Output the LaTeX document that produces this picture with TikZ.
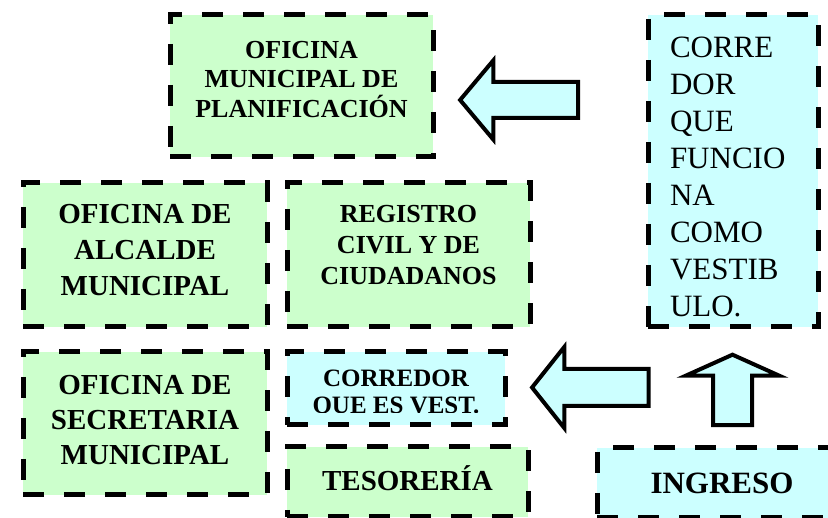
\documentclass[tikz,border=0pt]{standalone}
\usepackage{fontspec}
\setmainfont{Liberation Serif}
\usetikzlibrary{shapes.arrows}
\definecolor{officegreen}{HTML}{CCFFCC}
\definecolor{hallcyan}{HTML}{CCFFFF}

\begin{document}
\begin{tikzpicture}[x=1pt, y=-1pt]
\tikzstyle{room} = [rectangle, draw=black, line width=5pt, dash pattern=on 21pt off 20pt, inner sep=0pt]
\tikzstyle{office} = [room, fill=officegreen, align=center]
\tikzstyle{hall} = [room, fill=hallcyan, align=center]
\tikzstyle{flow} = [single arrow, draw=black, line width=4pt, fill=hallcyan, inner xsep=0pt, anchor=tip]

\useasboundingbox (0,0) rectangle (828,518);
\clip (0,0) rectangle (828,518);

% oficinas
\node (plan) [office, minimum width=263, minimum height=142, text depth=14pt, font=\fontsize{26}{29.5}\selectfont\bfseries] at (301.5,86) {OFICINA\\MUNICIPAL DE\\PLANIFICACIÓN};
\node (mayor) [office, minimum width=244, minimum height=144, text depth=10pt, font=\fontsize{29}{36}\selectfont\bfseries] at (145,255) {OFICINA DE\\ALCALDE\\MUNICIPAL};
\node (registry) [office, minimum width=243, minimum height=144, text depth=20pt, font=\fontsize{26}{31}\selectfont\bfseries] at (408.5,255) {REGISTRO\\CIVIL Y DE\\CIUDADANOS};
\node (secretary) [office, minimum width=244, minimum height=143, text depth=8pt, font=\fontsize{29}{35}\selectfont\bfseries] at (145,423.5) {OFICINA DE\\SECRETARIA\\MUNICIPAL};
\node (treasury) [office, minimum width=241, minimum height=70, text depth=8pt, font=\fontsize{29}{35}\selectfont\bfseries] at (407.5,482) {TESORERÍA};

% corredores e ingreso
\node (lobby) [hall, minimum width=170, minimum height=312, text width=126, align=left, text depth=248pt, font=\fontsize{31}{37.1}\selectfont] at (733,171) {CORRE\\DOR\\QUE\\FUNCIO\\NA\\COMO\\VESTIB\\ULO.};
\node (vest) [hall, minimum width=218, minimum height=73] at (396,388.5) {};
\begin{scope}
  \clip (vest.north west) rectangle ([yshift=15pt]vest.south east);
  \node (vesttext) [anchor=base, align=center, font=\fontsize{25}{27}\selectfont\bfseries] at (396,414) {CORREDOR\\QUE ES VEST.};
\end{scope}
\node (entry) [hall, minimum width=250, minimum height=70, font=\fontsize{31}{36}\selectfont\bfseries] at (722,483) {INGRESO};

% flechas
\node (toplan) [flow, rotate=180, minimum height=118, inner ysep=16, single arrow head extend=21.5, single arrow tip angle=100] at (457.5,100) {};
\node (tovest) [flow, rotate=180, minimum height=116.5, inner ysep=16.5, single arrow head extend=22, single arrow tip angle=103] at (529.5,387.5) {};
\node (tolobby) [flow, rotate=90, minimum height=70.5, inner ysep=17.5, single arrow head extend=27, single arrow tip angle=131.6] at (732.5,352.5) {};
\end{tikzpicture}
\end{document}
